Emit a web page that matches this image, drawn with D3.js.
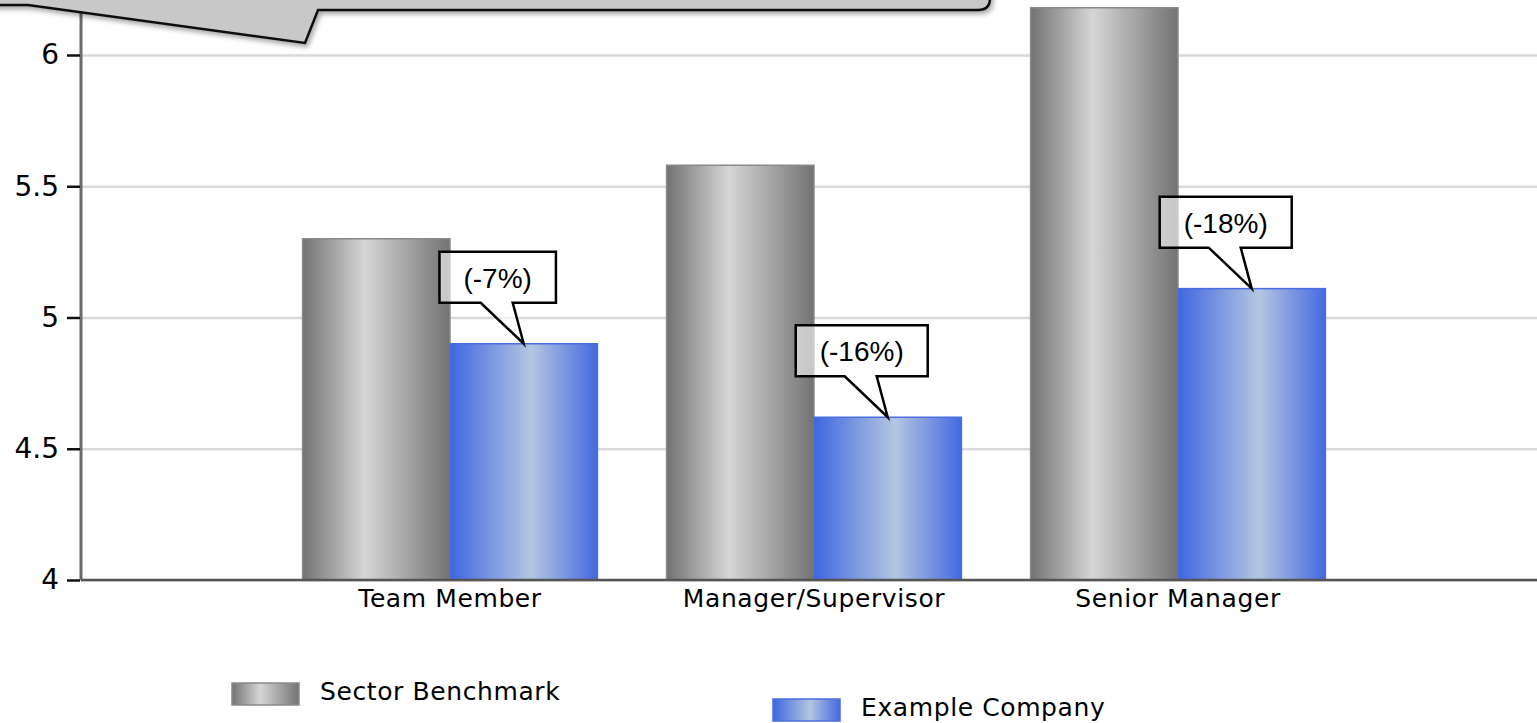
<!DOCTYPE html>
<html>
<head>
<meta charset="utf-8">
<script src="https://cdn.jsdelivr.net/npm/d3@7"></script>
<style>
  html, body { margin: 0; padding: 0; background: #fff; overflow: hidden; }
  svg { display: block; }
</style>
</head>
<body>
<div id="chart"></div>
<script>
// Grouped bar chart: sector benchmark vs example company, with % difference callouts

const categories = ['Team Member', 'Manager/Supervisor', 'Senior Manager'];
const seriesNames = ['Sector Benchmark', 'Example Company'];
const benchmarkValues = [5.30, 5.58, 6.18];
const companyValues = [4.90, 4.62, 5.11];
const diffLabels = ['(-7%)', '(-16%)', '(-18%)'];
const yTicks = [4, 4.5, 5, 5.5, 6];

const width = 1537;
const height = 723;
const plotLeft = 81;
const plotBottom = 580;

const svg = d3.select('#chart')
  .append('svg')
  .attr('width', width)
  .attr('height', height);

const defs = svg.append('defs');

// Cylinder-like horizontal gradients
const addGradient = (id, stops) => {
  const g = defs.append('linearGradient')
    .attr('id', id)
    .attr('x1', '0%').attr('x2', '100%')
    .attr('y1', '0%').attr('y2', '0%');
  stops.forEach(([offset, color]) => {
    g.append('stop').attr('offset', offset).attr('stop-color', color);
  });
};
addGradient('grad-gray', [['0%', '#727272'], ['42%', '#d6d6d6'], ['100%', '#737373']]);
addGradient('grad-blue', [['0%', '#3f66e0'], ['55%', '#b3c6e0'], ['100%', '#4569e0']]);

const filter = defs.append('filter')
  .attr('id', 'shadow')
  .attr('x', '-5%').attr('y', '-50%')
  .attr('width', '110%').attr('height', '200%');
filter.append('feDropShadow')
  .attr('dx', 2).attr('dy', 3)
  .attr('stdDeviation', 2.5)
  .attr('flood-color', '#000')
  .attr('flood-opacity', 0.35);

const FILLS = { 'Sector Benchmark': 'url(#grad-gray)', 'Example Company': 'url(#grad-blue)' };
const STROKES = { 'Sector Benchmark': '#8a8a8a', 'Example Company': '#4a6ee0' };
const FONT = '"DejaVu Sans", Verdana, sans-serif';

// Scales
const y = d3.scaleLinear().domain([4, 6]).range([plotBottom, 55]);

const x = d3.scaleBand()
  .domain(categories)
  .range([268, 1360])
  .paddingInner(0.19)
  .paddingOuter(0.095);

const xSub = d3.scaleBand()
  .domain(seriesNames)
  .range([0, x.bandwidth()]);

// Gridlines
svg.append('g')
  .attr('transform', `translate(${plotLeft},0)`)
  .call(d3.axisLeft(y).tickValues(yTicks).tickSize(-(width - plotLeft)).tickFormat(''))
  .call(g => g.select('.domain').remove())
  .call(g => g.selectAll('line').attr('stroke', '#d9d9d9').attr('stroke-width', 2.5));

// Bars
const rows = categories.map((c, i) => ({
  category: c,
  values: [
    { series: seriesNames[0], value: benchmarkValues[i] },
    { series: seriesNames[1], value: companyValues[i] }
  ],
  label: diffLabels[i]
}));

const group = svg.append('g')
  .selectAll('g')
  .data(rows)
  .enter()
  .append('g')
  .attr('transform', d => `translate(${x(d.category)},0)`);

group.selectAll('rect')
  .data(d => d.values)
  .enter()
  .append('rect')
  .attr('x', d => xSub(d.series))
  .attr('y', d => y(d.value))
  .attr('width', xSub.bandwidth())
  .attr('height', d => plotBottom - y(d.value))
  .attr('fill', d => FILLS[d.series])
  .attr('stroke', d => STROKES[d.series])
  .attr('stroke-width', 1.5);

// Y axis
svg.append('line')
  .attr('x1', plotLeft).attr('x2', plotLeft)
  .attr('y1', 0).attr('y2', plotBottom)
  .attr('stroke', '#6a6a6a')
  .attr('stroke-width', 3);

svg.append('g')
  .attr('transform', `translate(${plotLeft - 1},0)`)
  .call(d3.axisLeft(y).tickValues(yTicks).tickSize(13).tickPadding(8).tickFormat(d3.format('')))
  .call(g => g.select('.domain').remove())
  .call(g => g.selectAll('line').attr('stroke', '#111').attr('stroke-width', 2.5))
  .call(g => g.selectAll('text')
    .attr('font-family', FONT)
    .attr('font-size', '28px')
    .attr('fill', '#000'));

// X axis
svg.append('line')
  .attr('x1', plotLeft).attr('x2', width)
  .attr('y1', plotBottom).attr('y2', plotBottom)
  .attr('stroke', '#555')
  .attr('stroke-width', 2.5);

svg.append('g')
  .attr('transform', `translate(0,${plotBottom})`)
  .call(d3.axisBottom(x).tickSize(0).tickPadding(9))
  .call(g => g.select('.domain').remove())
  .call(g => g.selectAll('text')
    .attr('font-family', FONT)
    .attr('font-size', '25px')
    .attr('letter-spacing', '0.6px')
    .attr('fill', '#000'));

// Difference callouts pointing at the company bars
const callouts = svg.append('g')
  .selectAll('g')
  .data(rows)
  .enter()
  .append('g');

callouts.each(function (d) {
  const g = d3.select(this);
  const tipX = x(d.category) + xSub(seriesNames[1]) + xSub.bandwidth() / 2;
  const tipY = y(d.values[1].value);

  const text = g.append('text')
    .attr('font-family', '"Liberation Sans", Arial, sans-serif')
    .attr('font-size', '28px')
    .attr('fill', '#000')
    .attr('text-anchor', 'middle')
    .text(d.label);

  const w = text.node().getComputedTextLength() + 48;
  const h = 51;
  const cx = tipX - 26;
  const left = cx - w / 2;
  const right = cx + w / 2;
  const bottom = tipY - 41;
  const top = bottom - h;

  g.insert('path', 'text')
    .attr('d', `M${left},${top} H${right} V${bottom} H${tipX - 11} L${tipX},${tipY} L${tipX - 43},${bottom} H${left} Z`)
    .attr('fill', '#fff')
    .attr('fill-opacity', 0.6)
    .attr('stroke', '#000')
    .attr('stroke-width', 2.5)
    .attr('stroke-linejoin', 'miter');

  text.attr('x', cx).attr('y', top + 36);
});

// Title callout bubble (mostly off the top edge)
svg.append('path')
  .attr('d', 'M-20,-60 H978 Q990,-60 990,-48 V-2 Q990,10 978,10 H318 L305,43 L28,5 H-20 Z')
  .attr('fill', '#c8c8c8')
  .attr('stroke', '#111')
  .attr('stroke-width', 2.5)
  .attr('filter', 'url(#shadow)');

// Legend
const legendItems = [
  { name: seriesNames[0], x: 232, y: 683 },
  { name: seriesNames[1], x: 773, y: 699 }
];

const legend = svg.append('g')
  .selectAll('g')
  .data(legendItems)
  .enter()
  .append('g')
  .attr('transform', d => `translate(${d.x},${d.y})`);

legend.append('rect')
  .attr('width', 67)
  .attr('height', 22)
  .attr('fill', d => FILLS[d.name])
  .attr('stroke', d => STROKES[d.name])
  .attr('stroke-width', 1.5);

legend.append('text')
  .attr('x', 88)
  .attr('y', 17)
  .attr('font-family', FONT)
  .attr('font-size', '25px')
  .attr('letter-spacing', '0.6px')
  .attr('fill', '#000')
  .text(d => d.name);
</script>
</body>
</html>
